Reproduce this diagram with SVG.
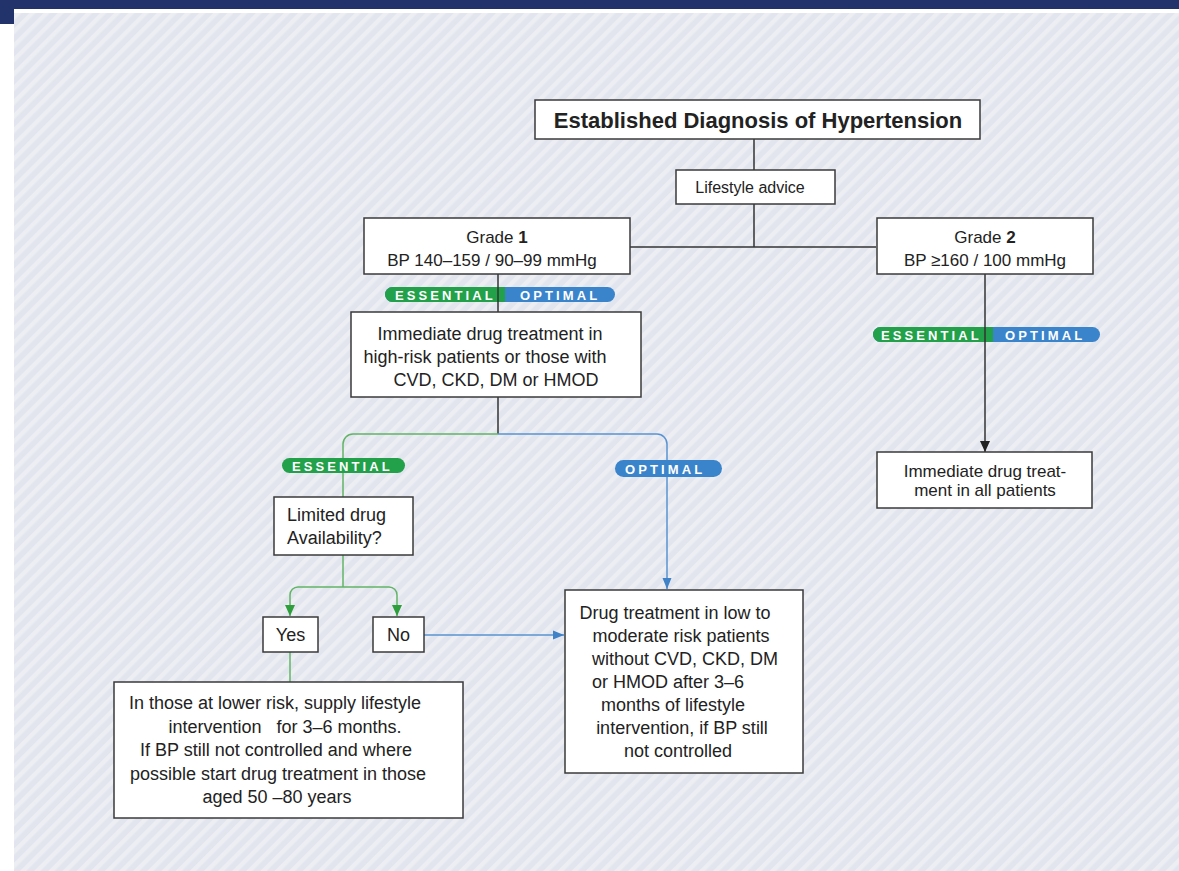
<svg xmlns="http://www.w3.org/2000/svg" width="1179" height="871" viewBox="0 0 1179 871">
<style>
.box{fill:#fff;stroke:#3a3a3a;stroke-width:1.5}
.t{font-family:"Liberation Sans",Arial,sans-serif;fill:#222;font-size:18px}
.tc{text-anchor:middle}
.title{font-size:22px;font-weight:bold}
.pill{font-family:"Liberation Sans",Arial,sans-serif;font-weight:bold;font-size:13px;fill:#fff;letter-spacing:3.1px}
.k{fill:none;stroke:#333;stroke-width:1.5}
.g{fill:none;stroke:#62b466;stroke-width:1.5}
.b{fill:none;stroke:#5a93d2;stroke-width:1.5}
</style>
<defs>
<pattern id="stripes" width="10" height="10" patternUnits="userSpaceOnUse" patternTransform="rotate(45)">
<rect width="10" height="10" fill="#e3e5ee"/>
<rect width="4.5" height="10" fill="#eceef4"/>
</pattern>
<marker id="ak" markerUnits="userSpaceOnUse" markerWidth="12" markerHeight="12" viewBox="0 0 12 12" refX="11" refY="6" orient="auto"><path d="M0,1 L11,6 L0,11 Z" fill="#222"/></marker>
<marker id="ag" markerUnits="userSpaceOnUse" markerWidth="12" markerHeight="12" viewBox="0 0 12 12" refX="11" refY="6" orient="auto"><path d="M0,1 L11,6 L0,11 Z" fill="#2e9e3c"/></marker>
<marker id="ab" markerUnits="userSpaceOnUse" markerWidth="12" markerHeight="12" viewBox="0 0 12 12" refX="11" refY="6" orient="auto"><path d="M0,1.5 L11,6 L0,10.5 Z" fill="#3f82c8"/></marker>
</defs>
<rect width="1179" height="871" fill="#fff"/>
<rect x="14" y="13" width="1165" height="858" fill="url(#stripes)"/>
<rect x="0" y="0" width="1179" height="9" fill="#22336b"/>
<rect x="0" y="0" width="14" height="24" fill="#22336b"/>

<g id="pill-grade1">
<rect x="385" y="287" width="230" height="15" rx="7.5" fill="#3a84cc"/>
<path d="M392.5,287 H505 V302 H392.5 A7.5,7.5 0 0 1 392.5,287 Z" fill="#22a04a"/>
<text class="pill" x="395" y="299.5">ESSENTIAL</text>
<text class="pill" x="520" y="299.5">OPTIMAL</text>
</g>
<g id="pill-grade2">
<rect x="873" y="327" width="227" height="15" rx="7.5" fill="#3a84cc"/>
<path d="M880.5,327 H993 V342 H880.5 A7.5,7.5 0 0 1 880.5,327 Z" fill="#22a04a"/>
<text class="pill" x="881" y="339.5">ESSENTIAL</text>
<text class="pill" x="1005" y="339.5">OPTIMAL</text>
</g>

<g id="connectors">
<path class="k" d="M754,139 V170"/>
<path class="k" d="M754,204 V247"/>
<path class="k" d="M630,247 H876"/>
<path class="k" d="M498,274 V312"/>
<path class="k" d="M498,397 V434"/>
<path class="g" d="M498,434 H353 A10,10 0 0 0 343,444 V497"/>
<path class="b" d="M498,434 H657 A10,10 0 0 1 667,444 V589" marker-end="url(#ab)"/>
<path class="g" d="M343,555 V587"/>
<path class="g" d="M343,587 H298 A8,8 0 0 0 290,595 V616" marker-end="url(#ag)"/>
<path class="g" d="M343,587 H389 A8,8 0 0 1 397,595 V616" marker-end="url(#ag)"/>
<path class="g" d="M290,652 V682"/>
<path class="b" d="M424,635 H564" marker-end="url(#ab)"/>
<path class="k" d="M985,274 V452" marker-end="url(#ak)"/>
</g>

<g id="pill-essential">
<rect x="282" y="458" width="123" height="15" rx="7.5" fill="#22a04a"/>
<text class="pill" x="292" y="470.5">ESSENTIAL</text>
</g>
<g id="pill-optimal">
<rect x="615" y="460" width="107" height="17" rx="8.5" fill="#3a84cc"/>
<text class="pill" x="625" y="473.5">OPTIMAL</text>
</g>

<g id="title">
<rect class="box" x="535" y="100" width="445" height="39"/>
<text class="t title tc" x="758" y="128">Established Diagnosis of Hypertension</text>
</g>
<g id="lifestyle">
<rect class="box" x="676" y="170" width="159" height="34"/>
<text class="t tc" x="750" y="193" style="font-size:16px">Lifestyle advice</text>
</g>
<g id="grade1">
<rect class="box" x="364" y="218" width="266" height="56"/>
<text class="t tc" x="497" y="243" style="font-size:17px">Grade <tspan font-weight="bold">1</tspan></text>
<text class="t tc" x="492" y="266" style="font-size:17px">BP 140–159 / 90–99 mmHg</text>
</g>
<g id="grade2">
<rect class="box" x="877" y="218" width="216" height="56"/>
<text class="t tc" x="985" y="243" style="font-size:17px">Grade <tspan font-weight="bold">2</tspan></text>
<text class="t tc" x="985" y="266" style="font-size:17px">BP ≥160 / 100 mmHg</text>
</g>
<g id="immediate-high-risk">
<rect class="box" x="351" y="312" width="290" height="85"/>
<text class="t tc" x="490" y="340">Immediate drug treatment in</text>
<text class="t tc" x="485" y="363">high-risk patients or those with</text>
<text class="t tc" x="496" y="386">CVD, CKD, DM or HMOD</text>
</g>
<g id="immediate-all">
<rect class="box" x="877" y="452" width="215" height="56"/>
<text class="t tc" x="985" y="477" style="font-size:17px">Immediate drug treat-</text>
<text class="t tc" x="985" y="496" style="font-size:17px">ment in all patients</text>
</g>
<g id="limited">
<rect class="box" x="274" y="497" width="139" height="58"/>
<text class="t" x="287" y="521">Limited drug</text>
<text class="t" x="287" y="544">Availability?</text>
</g>
<g id="yes">
<rect class="box" x="263" y="617" width="55" height="35"/>
<text class="t tc" x="290.5" y="641">Yes</text>
</g>
<g id="no">
<rect class="box" x="373" y="617" width="51" height="35"/>
<text class="t tc" x="398.5" y="641">No</text>
</g>
<g id="lower-risk">
<rect class="box" x="114" y="682" width="349" height="136"/>
<text class="t tc" x="275" y="709">In those at lower risk, supply lifestyle</text>
<text class="t tc" x="285" y="733" xml:space="preserve">intervention   for 3–6 months.</text>
<text class="t tc" x="276" y="756">If BP still not controlled and where</text>
<text class="t tc" x="278" y="780">possible start drug treatment in those</text>
<text class="t tc" x="277" y="803">aged 50 –80 years</text>
</g>
<g id="low-moderate">
<rect class="box" x="565" y="590" width="238" height="183"/>
<text class="t tc" x="675" y="619">Drug treatment in low to</text>
<text class="t tc" x="681" y="642">moderate risk patients</text>
<text class="t tc" x="685" y="665">without CVD, CKD, DM</text>
<text class="t tc" x="668" y="688">or HMOD after 3–6</text>
<text class="t tc" x="673" y="711">months of lifestyle</text>
<text class="t tc" x="682" y="734">intervention, if BP still</text>
<text class="t tc" x="678" y="757">not controlled</text>
</g>
</svg>
